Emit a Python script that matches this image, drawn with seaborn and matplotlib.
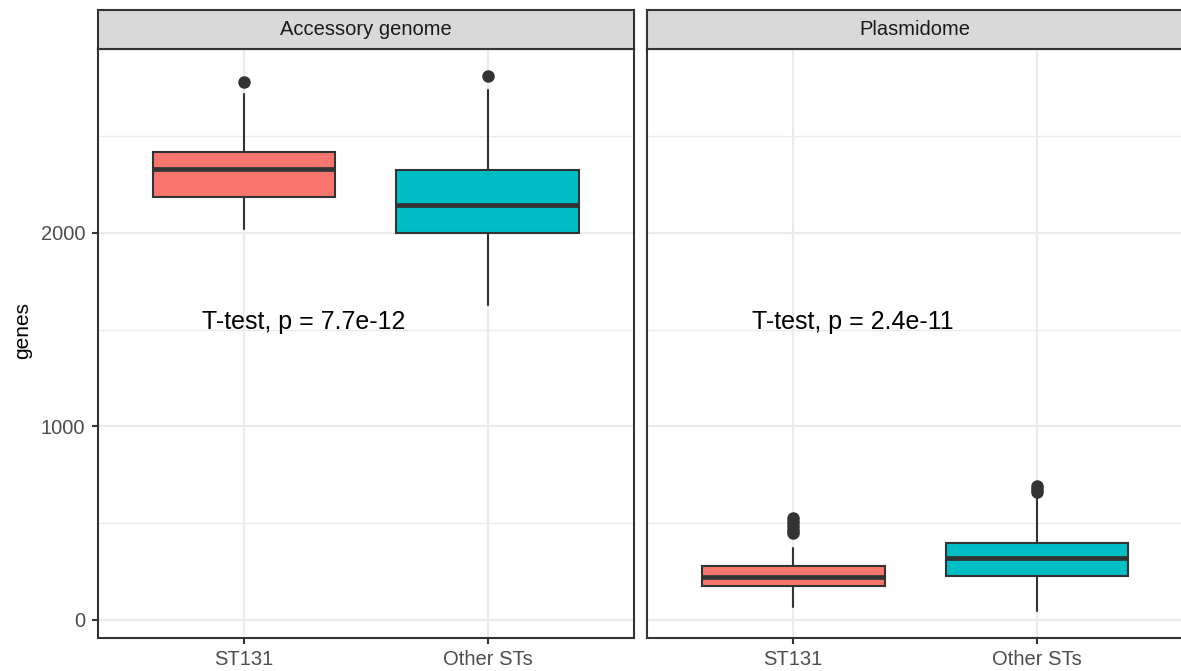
import matplotlib
matplotlib.use("Agg")
import matplotlib.pyplot as plt
import seaborn as sns

# ---------------- data ----------------
groups = ["ST131", "Other STs"]
panels = ["Accessory genome", "Plasmidome"]
colors = ["#F8766D", "#00BFC4"]

acc_whislo = [2021, 1628]
acc_q1 = [2186, 2002]
acc_med = [2331, 2145]
acc_q3 = [2419, 2326]
acc_whishi = [2718, 2739]
acc_fliers = [[2780], [2809]]

pla_whislo = [66, 47]
pla_q1 = [176, 227]
pla_med = [224, 319]
pla_q3 = [281, 400]
pla_whishi = [370, 645]
pla_fliers = [[527, 505, 485, 465, 447], [690, 675, 662]]

pvalues = ["T-test, p = 7.7e-12", "T-test, p = 2.4e-11"]
yticks = [0, 1000, 2000]
yminor = [500, 1500, 2500]
ylabel = "genes"

# ---------------- style ----------------
sns.set_theme(style="white")
plt.rcParams["font.family"] = ["Liberation Sans", "DejaVu Sans"]

DARK = "#333333"
GRID = "#EBEBEB"

fig = plt.figure(figsize=(11.81, 6.71), dpi=100)
W = 0.4541
bottom, height = 0.0492, 0.8778
lefts = [0.0827, 0.5478]

panel_stats = [
    (acc_whislo, acc_q1, acc_med, acc_q3, acc_whishi, acc_fliers),
    (pla_whislo, pla_q1, pla_med, pla_q3, pla_whishi, pla_fliers),
]

for i, (left, title, st, ptxt) in enumerate(zip(lefts, panels, panel_stats, pvalues)):
    ax = fig.add_axes([left, bottom, W, height])
    ax.set_facecolor("white")
    ax.set_xlim(0.4, 2.6)
    ax.set_ylim(-93, 2951)

    # grid
    for y in yticks:
        ax.axhline(y, color=GRID, lw=1.6, zorder=0)
    for y in yminor:
        ax.axhline(y, color=GRID, lw=1.0, zorder=0)
    for x in [1, 2]:
        ax.axvline(x, color=GRID, lw=1.6, zorder=0)

    whislo, q1, med, q3, whishi, fliers = st
    stats = []
    for j, g in enumerate(groups):
        stats.append(dict(label=g, whislo=whislo[j], q1=q1[j], med=med[j],
                          q3=q3[j], whishi=whishi[j], fliers=fliers[j]))
    bp = ax.bxp(stats, positions=[1, 2], widths=0.75, patch_artist=True,
                showcaps=False,
                boxprops=dict(edgecolor=DARK, linewidth=1.5),
                medianprops=dict(color=DARK, linewidth=3.4, solid_capstyle="butt"),
                whiskerprops=dict(color=DARK, linewidth=1.5),
                flierprops=dict(marker="o", markerfacecolor=DARK,
                                markeredgecolor=DARK, markersize=8),
                zorder=3)
    for patch, c in zip(bp["boxes"], colors):
        patch.set_facecolor(c)

    ax.text(0.83, 1502, ptxt, fontsize=18, color="black", ha="left",
            va="baseline", zorder=5)

    ax.set_xticks([1, 2])
    ax.set_xticklabels(groups)
    ax.set_yticks(yticks)
    if i == 0:
        ax.set_yticklabels([str(v) for v in yticks])
        ax.tick_params(axis="y", length=4.6, width=1.5, color=DARK,
                       labelsize=14.5, labelcolor="#4D4D4D", pad=4.5, left=True)
    else:
        ax.tick_params(axis="y", left=False, labelleft=False)
    ax.tick_params(axis="x", length=4.6, width=1.5, color=DARK,
                   labelsize=14.5, labelcolor="#4D4D4D", pad=4, bottom=True)
    for sp in ax.spines.values():
        sp.set_visible(True)
        sp.set_color(DARK)
        sp.set_linewidth(1.5)
    ax.set_xlabel("")
    ax.set_ylabel("")

    # strip
    sax = fig.add_axes([left, 0.927, W, 0.0581])
    sax.set_facecolor("#D9D9D9")
    sax.set_xticks([])
    sax.set_yticks([])
    for sp in sax.spines.values():
        sp.set_visible(True)
        sp.set_color(DARK)
        sp.set_linewidth(1.5)
    sax.text(0.5, 0.5, title, transform=sax.transAxes, ha="center",
             va="center", fontsize=14.5, color="#1A1A1A")

fig.text(0.0195, 0.507, ylabel, rotation=90, ha="center", va="center",
         fontsize=15, color="black")

fig.savefig("out.png", dpi=100)
